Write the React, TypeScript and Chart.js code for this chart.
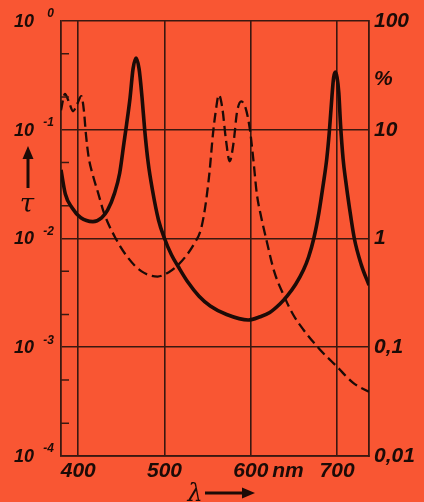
import React, { useEffect, useRef } from "react";
import { Chart, registerables } from "chart.js";

Chart.register(...registerables);

const BG = "#F95633";
const INK = "#1c0b07";
const GRID = "#3a1810";

// solid curve (wavelength nm, transmission tau)
const solidLambda = [380, 385, 393, 403, 417, 427, 434, 442, 448, 453, 456, 460, 463.5, 467, 470.5, 474, 477, 481, 486, 493, 500, 508, 516, 527, 540, 553, 572, 597, 611, 622, 634, 642, 652, 661, 667, 673, 679, 684, 688, 691, 694, 696, 698, 700, 702, 704, 707, 710, 714, 720, 728, 737];
const solidTau = [0.0427, 0.0257, 0.0191, 0.0155, 0.0143, 0.0155, 0.0182, 0.026, 0.0398, 0.0759, 0.112, 0.195, 0.363, 0.457, 0.363, 0.195, 0.1, 0.0501, 0.0279, 0.0148, 0.01, 0.00708, 0.0055, 0.00398, 0.00295, 0.0024, 0.002, 0.00178, 0.00191, 0.00209, 0.00251, 0.00295, 0.0038, 0.00513, 0.00676, 0.01, 0.0174, 0.0316, 0.0537, 0.0955, 0.2, 0.302, 0.339, 0.302, 0.219, 0.112, 0.0537, 0.0339, 0.02, 0.01, 0.00575, 0.00372];

// dashed curve
const dashedLambda = [380, 384.5, 389, 394, 399, 403.5, 406.5, 409, 412, 417, 423, 430, 442, 457, 473, 492, 505, 512, 524, 535, 542, 547, 552, 556, 559, 563, 567, 571, 575.5, 580, 584, 589, 594, 599, 603, 607, 612, 618, 627, 638, 649, 661, 680, 700, 719, 737];
const dashedTau = [0.151, 0.214, 0.182, 0.148, 0.174, 0.204, 0.151, 0.0891, 0.0562, 0.038, 0.0263, 0.017, 0.0105, 0.00676, 0.00501, 0.00447, 0.0049, 0.00537, 0.00676, 0.00912, 0.012, 0.0191, 0.0398, 0.0891, 0.141, 0.209, 0.158, 0.0832, 0.0513, 0.0759, 0.145, 0.182, 0.158, 0.1, 0.0525, 0.0257, 0.0158, 0.00977, 0.00501, 0.00302, 0.002, 0.00145, 0.000955, 0.000661, 0.000468, 0.000389];

const xTickValues = [400, 500, 600, 643, 700];
const xTickLabels = ["400", "500", "600", "nm", "700"];
const leftExponents = [0, -1, -2, -3, -4];
const leftSuperscripts = ["0", "-1", "-2", "-3", "-4"];
const rightTickValues = [100, 29, 10, 1, 0.1, 0.01];
const rightTickLabels = ["100", "%", "10", "1", "0,1", "0,01"];
const minorMantissas = [2, 5];
const minorExponents = [-4, -3, -2, -1];

const decor = {
  id: "decor",
  beforeDraw(chart: any) {
    const ctx = chart.ctx;
    ctx.save();
    ctx.fillStyle = BG;
    ctx.fillRect(0, 0, chart.width, chart.height);
    ctx.restore();
  },
  afterDraw(chart: any) {
    const { ctx, chartArea, scales } = chart;
    const y = scales.y;
    ctx.save();
    // minor ticks on left axis, inside
    ctx.strokeStyle = GRID;
    ctx.lineWidth = 1.5;
    for (const e of minorExponents) {
      for (const m of minorMantissas) {
        const py = y.getPixelForValue(m * Math.pow(10, e));
        ctx.beginPath();
        ctx.moveTo(chartArea.left, py);
        ctx.lineTo(chartArea.left + 8, py);
        ctx.stroke();
      }
    }
    // left labels 10^n
    ctx.fillStyle = INK;
    ctx.textBaseline = "middle";
    leftExponents.forEach((e, i) => {
      const py = y.getPixelForValue(Math.pow(10, e));
      ctx.font = "italic bold 18px 'Liberation Sans'";
      ctx.textAlign = "right";
      ctx.fillText("10", 34, py + 1);
      ctx.font = "italic bold 12px 'Liberation Sans'";
      ctx.fillText(leftSuperscripts[i], 54, py - 7);
    });
    // tau with up arrow
    ctx.strokeStyle = INK;
    ctx.lineWidth = 3;
    ctx.beginPath();
    ctx.moveTo(28, 188);
    ctx.lineTo(28, 156);
    ctx.stroke();
    ctx.beginPath();
    ctx.moveTo(28, 146);
    ctx.lineTo(22.5, 159);
    ctx.lineTo(33.5, 159);
    ctx.closePath();
    ctx.fill();
    ctx.font = "italic 26px 'DejaVu Serif'";
    ctx.textAlign = "center";
    ctx.fillText("τ", 27, 205);
    // lambda with right arrow
    ctx.textBaseline = "alphabetic";
    ctx.font = "italic 24px 'DejaVu Serif'";
    ctx.fillText("λ", 195, 501);
    ctx.beginPath();
    ctx.moveTo(205, 493);
    ctx.lineTo(244, 493);
    ctx.stroke();
    ctx.beginPath();
    ctx.moveTo(255, 493);
    ctx.lineTo(242, 487.5);
    ctx.lineTo(242, 498.5);
    ctx.closePath();
    ctx.fill();
    ctx.restore();
  },
};

export default function App() {
  const ref = useRef<HTMLCanvasElement | null>(null);

  useEffect(() => {
    document.body.style.margin = "0";
    document.body.style.background = BG;
    const canvas = ref.current;
    if (!canvas) return;
    const chart = new Chart(canvas, {
      type: "line",
      data: {
        datasets: [
          {
            label: "solid",
            data: solidLambda.map((x, i) => ({ x, y: solidTau[i] })),
            borderColor: INK,
            borderWidth: 3.6,
            pointRadius: 0,
            cubicInterpolationMode: "monotone",
            fill: false,
          },
          {
            label: "dashed",
            data: dashedLambda.map((x, i) => ({ x, y: dashedTau[i] })),
            borderColor: INK,
            borderWidth: 2.3,
            borderDash: [10, 5],
            pointRadius: 0,
            cubicInterpolationMode: "monotone",
            fill: false,
          },
        ],
      },
      options: {
        animation: false,
        responsive: false,
        devicePixelRatio: 1,
        layout: { padding: { top: 21, left: 0, right: 0, bottom: 0 } },
        plugins: { legend: { display: false }, tooltip: { enabled: false } },
        scales: {
          x: {
            type: "linear",
            min: 380,
            max: 737,
            afterBuildTicks: (s: any) => {
              s.ticks = xTickValues.map((v) => ({ value: v }));
            },
            afterFit: (s: any) => {
              s.height = 46;
            },
            ticks: {
              autoSkip: false,
              maxRotation: 0,
              padding: 3,
              color: INK,
              font: { family: "'Liberation Sans'", size: 21, style: "italic", weight: "bold" },
              callback: (v: any) => {
                const i = xTickValues.indexOf(Number(v));
                return i >= 0 ? xTickLabels[i] : "";
              },
            },
            grid: {
              drawTicks: false,
              lineWidth: 1.6,
              color: (c: any) => (c.tick && c.tick.value === 643 ? "rgba(0,0,0,0)" : GRID),
            },
            border: { display: true, color: GRID, width: 1.8 },
          },
          y: {
            type: "logarithmic",
            position: "left",
            min: 1e-4,
            max: 1,
            afterBuildTicks: (s: any) => {
              s.ticks = leftExponents.map((e) => ({ value: Math.pow(10, e) }));
            },
            afterFit: (s: any) => {
              s.width = 61;
            },
            ticks: { display: false },
            grid: { drawTicks: false, lineWidth: 1.6, color: GRID },
            border: { display: true, color: GRID, width: 1.8 },
          },
          y2: {
            type: "logarithmic",
            position: "right",
            min: 0.01,
            max: 100,
            afterBuildTicks: (s: any) => {
              s.ticks = rightTickValues.map((v) => ({ value: v }));
            },
            afterFit: (s: any) => {
              s.width = 55;
            },
            ticks: {
              autoSkip: false,
              padding: 5,
              color: INK,
              font: { family: "'Liberation Sans'", size: 21, style: "italic", weight: "bold" },
              callback: (v: any) => {
                const i = rightTickValues.indexOf(Number(v));
                return i >= 0 ? rightTickLabels[i] : "";
              },
            },
            grid: { display: false, drawTicks: false },
            border: { display: true, color: GRID, width: 1.8 },
          },
        },
      },
      plugins: [decor],
    } as any);
    return () => chart.destroy();
  }, []);

  return (
    <div style={{ width: 424, height: 502, background: BG }}>
      <canvas ref={ref} width={424} height={502} style={{ display: "block", width: 424, height: 502 }} />
    </div>
  );
}
